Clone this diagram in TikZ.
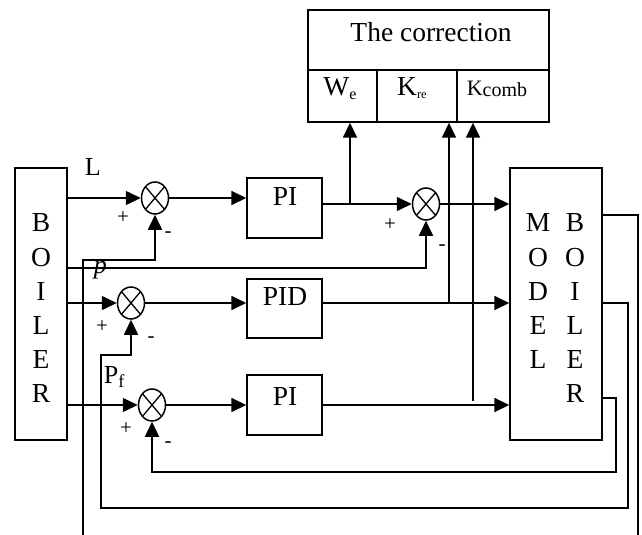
\documentclass[tikz,border=0pt]{standalone}
\usepackage{fontspec}
\setmainfont{Liberation Serif}
\usetikzlibrary{arrows.meta,shapes.geometric}
\begin{document}
\begin{tikzpicture}[x=1pt,y=-1pt,line width=1.6pt,
  box/.style={draw,rectangle,inner sep=0pt,line width=1.4pt},
  sumnode/.style={draw,ellipse,minimum width=27pt,minimum height=32pt,inner sep=0pt,line width=1.5pt,
    path picture={
      \draw[line width=1.3pt] ([xshift=-9.5pt,yshift=-11.3pt]path picture bounding box.center) -- ([xshift=9.5pt,yshift=11.3pt]path picture bounding box.center);
      \draw[line width=1.3pt] ([xshift=-9.5pt,yshift=11.3pt]path picture bounding box.center) -- ([xshift=9.5pt,yshift=-11.3pt]path picture bounding box.center);}},
  arr/.style={-{Triangle[length=15pt,width=14pt]}},
  big/.style={inner sep=0pt,font=\fontsize{27.5}{34.2}\selectfont,align=center},
  mid/.style={inner sep=0pt,font=\fontsize{22}{24}\selectfont},
  lab/.style={inner sep=0pt,font=\fontsize{26}{28}\selectfont},
  sign/.style={inner sep=0pt,font=\fontsize{21}{24}\selectfont},
]
\useasboundingbox (0,0) rectangle (642,535);

% correction box
\node[box,minimum width=241pt,minimum height=112pt] (corr) at (428.5,66) {};
\node[big] (corrtxt) at (431,32) {The correction};
\draw[line width=1.4pt] (corr.west |- 0,70) -- (corr.east |- 0,70);
\draw[line width=1.4pt] (377,70) -- (377 ,122);
\draw[line width=1.4pt] (457,70) -- (457,122);
\node[big,anchor=base] (we) at (340,95) {W\raisebox{-4pt}{\fontsize{16}{16}\selectfont e}};
\node[big,anchor=base] (kre) at (412,95) {K\raisebox{-3pt}{\fontsize{12.5}{12.5}\selectfont re}};
\node[mid,anchor=base] (kcomb) at (497,95) {K\raisebox{-1.5pt}{\fontsize{20}{20}\selectfont comb}};

% boiler
\node[box,minimum width=52pt,minimum height=272pt] (boiler) at (41,304) {};
\node[big,anchor=north] (boilertxt) at (41,213) {B\\O\\I\\L\\E\\R};

% model boiler
\node[box,minimum width=92pt,minimum height=272pt] (model) at (556,304) {};
\node[big,anchor=north] (modeltxt) at (538,213) {M\\O\\D\\E\\L};
\node[big,anchor=north] (boiler2txt) at (575,213) {B\\O\\I\\L\\E\\R};

% controllers
\node[box,minimum width=75pt,minimum height=60pt] (pi1) at (284.5,208) {};
\node[big] (pi1t) at (285,196) {PI};
\node[box,minimum width=75pt,minimum height=59pt] (pid) at (284.5,308.5) {};
\node[big] (pidt) at (285,297) {PID};
\node[box,minimum width=75pt,minimum height=60pt] (pi3) at (284.5,405) {};
\node[big] (pi3t) at (285,396) {PI};

% summing junctions
\node[sumnode] (s1) at (155,198) {};
\node[sumnode] (s2) at (426,204) {};
\node[sumnode] (s3) at (131,303) {};
\node[sumnode] (s4) at (152,405) {};

% coordinates
\coordinate (pline) at (0,268);
\coordinate (tapA) at (350,204);
\coordinate (tapB) at (449,303);
\coordinate (tapC) at (473,401);
\coordinate (o1) at (0,215);
\coordinate (o3) at (0,398);
\coordinate (fbA) at (83,535);
\coordinate (fbTop) at (638,535);

% first loop
\draw[arr] (boiler.east |- s1) -- (s1.west);
\draw[arr] (s1.east) -- (s1.east -| pi1.west);
\draw[arr] (pi1.east |- s2) -- (s2.west);
\draw[arr] (tapA) -- (tapA |- corr.south);
\draw[arr] (s2.east) -- (s2.east -| model.west);
\draw[arr] (fbA) -- (83,260) -| (s1.south);
\draw[arr] (boiler.east |- pline) -| (s2.south);

% second loop
\draw[arr] (boiler.east |- s3) -- (s3.west);
\draw[arr] (s3.east) -- (s3.east -| pid.west);
\draw[arr] (pid.east |- s3) -- (s3 -| model.west);
\draw[arr] (tapB) -- (tapB |- corr.south);

% third loop
\draw[arr] (boiler.east |- s4) -- (s4.west);
\draw[arr] (s4.east) -- (s4.east -| pi3.west);
\draw[arr] (pi3.east |- s4) -- (s4 -| model.west);
\draw[arr] (tapC) -- (tapC |- corr.south);

% model outputs
\draw (model.east |- o1) -- (638,215) -- (fbTop);
\draw[arr] (model.east |- s3) -- (628,303) -- (628,508) -- (101,508) -- (101,355) -| (s3.south);
\draw[arr] (model.east |- o3) -- (616,398) -- (616,472) -| (s4.south);

% labels
\node[lab,anchor=base west] (lL) at (84,175) {L};
\node[lab,anchor=base west] (lp) at (93,273) {\itshape p};
\node[lab,anchor=base west] (lpf) at (103,383) {P\textsubscript{f}};
\node[sign] (p1) at (123,218) {+};
\node[sign] (m1) at (168,235) {-};
\node[sign] (p2) at (390,225) {+};
\node[sign] (m2) at (442,248) {-};
\node[sign] (p3) at (102,327) {+};
\node[sign] (m3) at (151,340) {-};
\node[sign] (p4) at (126,429) {+};
\node[sign] (m4) at (168,445) {-};
\end{tikzpicture}
\end{document}
